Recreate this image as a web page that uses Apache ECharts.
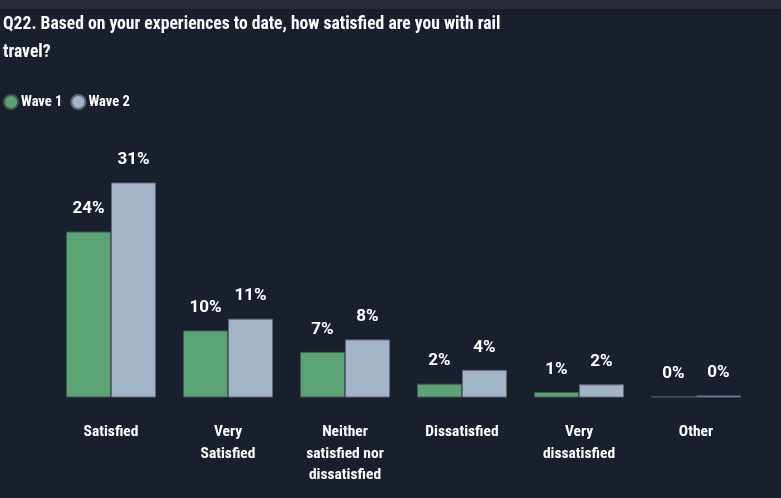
<!DOCTYPE html>
<html><head><meta charset="utf-8">
<style>html,body{margin:0;padding:0;background:#1a1f2e;}#c{width:781px;height:498px;}</style>
<script src="https://cdn.jsdelivr.net/npm/echarts@6/dist/echarts.min.js"></script>
</head><body><div id="c"></div>
<script>
const categories = ['Satisfied', 'Very\nSatisfied', 'Neither\nsatisfied nor\ndissatisfied', 'Dissatisfied', 'Very\ndissatisfied', 'Other'];
const wave1 = [24.0, 9.7, 6.6, 2.0, 0.8, 0.2];
const wave2 = [31.1, 11.4, 8.4, 4.0, 1.9, 0.3];
const seriesNames = ['Wave 1', 'Wave 2'];
const FONT = '"Roboto Condensed", "DejaVu Sans Condensed", sans-serif';
const chart = echarts.init(document.getElementById('c'), null, {renderer: 'canvas'});
const labelCfg = {
  show: true, position: 'top', distance: 14,
  color: '#ffffff', fontFamily: 'Roboto, sans-serif', fontWeight: 'bold', fontSize: 17,
  formatter: p => Math.round(p.value) + '%'
};
chart.setOption({
  backgroundColor: '#1a1f2e',
  graphic: [{type: 'rect', left: 0, top: 0, shape: {width: 781, height: 9}, style: {fill: '#252a36'}}],
  title: {
    text: 'Q22. Based on your experiences to date, how satisfied are you with rail\ntravel?',
    left: 3, top: 11, padding: 0,
    textStyle: {color: '#ffffff', fontFamily: FONT, fontWeight: 'bold', fontSize: 17.6, lineHeight: 28}
  },
  legend: {
    data: seriesNames, left: 3, top: 94, padding: 0, icon: 'circle', itemWidth: 14, itemHeight: 14, itemGap: 8,
    textStyle: {color: '#ffffff', fontFamily: FONT, fontWeight: 'bold', fontSize: 14.5, padding: [0,0,0,-2]}
  },
  grid: {left: 52.5, right: 26.5, top: 155.5, bottom: 100.5, containLabel: false},
  xAxis: {
    type: 'category', data: categories,
    axisLine: {show: false}, axisTick: {show: false},
    axisLabel: {color: '#ffffff', fontFamily: FONT, fontWeight: 'bold', fontSize: 15.5, lineHeight: 21.5, margin: 24, interval: 0}
  },
  yAxis: {type: 'value', min: 0, max: 35, show: false, splitLine: {show: false}},
  series: [
    {name: 'Wave 1', type: 'bar', data: wave1, barGap: '0%', barCategoryGap: '23%',
     itemStyle: {color: '#5ba373', borderColor: '#3f5a55', borderWidth: 1}, label: labelCfg},
    {name: 'Wave 2', type: 'bar', data: wave2,
     itemStyle: {color: '#a3b3c8', borderColor: '#5e6878', borderWidth: 1}, label: labelCfg}
  ]
});
</script></body></html>
